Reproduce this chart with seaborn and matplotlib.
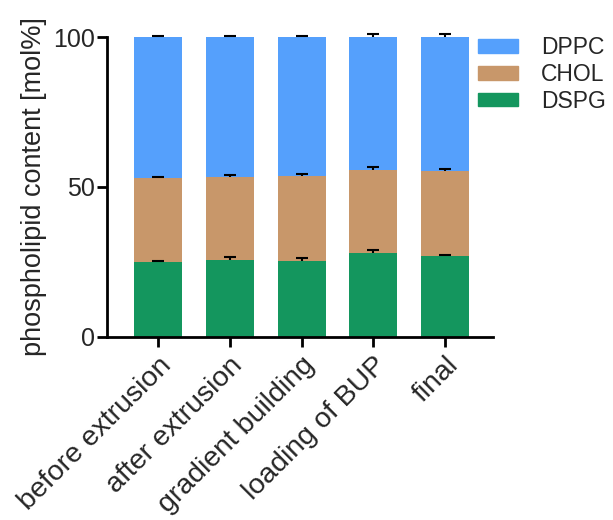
import numpy as np
import pandas as pd
import matplotlib
matplotlib.use('Agg')
import matplotlib.pyplot as plt
import matplotlib.patches as mpatches
import seaborn as sns

# values (mol%)
stages = ['before extrusion', 'after extrusion', 'gradient building', 'loading of BUP', 'final']
dspg = [25.1, 25.7, 25.3, 27.9, 27.0]
chol = [27.8, 27.5, 28.4, 27.9, 28.3]
dppc = [47.1, 46.8, 46.3, 44.2, 44.7]
dspg_err = [0.2, 1.1, 0.9, 1.1, 0.4]
chol_err = [0.3, 0.7, 0.7, 1.0, 0.8]
dppc_err = [0.4, 0.3, 0.4, 0.9, 1.0]

colors = {'DPPC': '#55a0fc', 'CHOL': '#c8976a', 'DSPG': '#14965e'}

sns.set_style('ticks')
plt.rcParams['font.family'] = ['Liberation Sans', 'DejaVu Sans']

df = pd.DataFrame({'stage': stages, 'DSPG': dspg, 'CHOL': chol, 'DPPC': dppc})
df['top_dspg'] = df['DSPG']
df['top_chol'] = df['DSPG'] + df['CHOL']
df['top_dppc'] = df['top_chol'] + df['DPPC']

fig = plt.figure(figsize=(6.13, 5.2), dpi=100)
ax = fig.add_axes([0.1746, 0.352, 0.630, 0.5768])

for col, name in [('top_dppc', 'DPPC'), ('top_chol', 'CHOL'), ('top_dspg', 'DSPG')]:
    sns.barplot(data=df, x='stage', y=col, color=colors[name], width=0.67,
                saturation=1, linewidth=0, ax=ax, errorbar=None)

# one-sided (upper) error bars, cap only at the top
x = np.arange(len(stages))
for tops, err in [(df['top_dspg'], dspg_err), (df['top_chol'], chol_err), (df['top_dppc'], dppc_err)]:
    ends = tops + np.array(err)
    ax.vlines(x, tops, ends, color='black', linewidth=1.5, zorder=5, clip_on=False)
    ax.plot(x, ends, ls='none', marker='_', markersize=9, markeredgewidth=1.5,
            color='black', zorder=5, clip_on=False)

ax.set_xlim(-0.71, 4.67)
ax.set_ylim(0, 100)
ax.set_yticks([0, 50, 100])
ax.set_xlabel('')
ax.set_ylabel('phospholipid content [mol%]', fontsize=19.5, labelpad=4)
ax.tick_params(axis='y', labelsize=18, width=2, length=7, color='black', pad=2)
ax.tick_params(axis='x', labelsize=20.5, width=2, length=7, color='black', pad=4)
ax.set_xticks(x)
ax.set_xticklabels(stages, rotation=45, ha='right', rotation_mode='anchor')
for s in ['left', 'bottom']:
    ax.spines[s].set_linewidth(2)
    ax.spines[s].set_color('black')
sns.despine(ax=ax)

handles = [mpatches.Patch(color=colors[n], label=n) for n in ['DPPC', 'CHOL', 'DSPG']]
fig.legend(handles=handles, loc='upper left', bbox_to_anchor=(0.765, 0.948),
           frameon=False, fontsize=16.5, handlelength=1.75, handleheight=0.55,
           handletextpad=1.0, labelspacing=0.16, borderaxespad=0)

fig.savefig('out.png', dpi=100)
